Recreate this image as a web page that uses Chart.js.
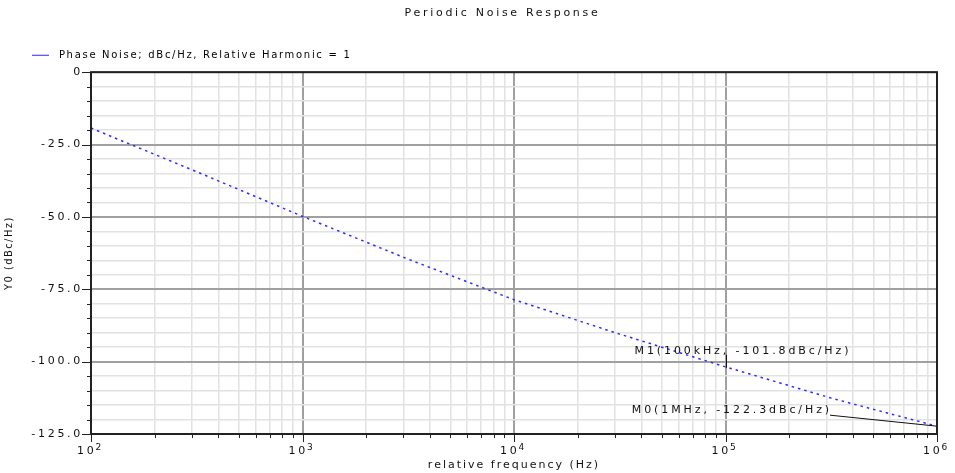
<!DOCTYPE html>
<html>
<head>
<meta charset="utf-8">
<title>Periodic Noise Response</title>
<script src="https://cdn.jsdelivr.net/npm/chart.js@4.4.1/dist/chart.umd.min.js"></script>
<style>
  html, body { margin: 0; padding: 0; background: #fff; }
  #wrap { width: 955px; height: 473px; }
</style>
</head>
<body>
<div id="wrap"><canvas id="pnoise" width="955" height="473"></canvas></div>
<script>
// Phase noise curve
const freqHz = [100, 316, 1000, 3162, 10000, 31623, 100000, 316228, 1000000];
const phaseNoise = [-19.3, -34.4, -49.8, -64.6, -78.6, -90.5, -101.8, -112.6, -122.3];

// axis ticks
const xMajorTicks = [1e2, 1e3, 1e4, 1e5, 1e6];
const xTickBase = '10';
const xTickExp = ['2', '3', '4', '5', '6'];
const yMajorTicks = [0, -25, -50, -75, -100, -125];
const yTickLabels = ['0', '-25.0', '-50.0', '-75.0', '-100.0', '-125.0'];

// markers
const markerNames = ['M1', 'M0'];
const markerFreq = [1e5, 1e6];
const markerValue = [-101.8, -122.3];
const markerText = ['M1(100kHz, -101.8dBc/Hz)', 'M0(1MHz, -122.3dBc/Hz)'];

const FONT = '"DejaVu Sans", Verdana, sans-serif';
const SPACING = '2.7px';

function isDecade(v) {
  return xMajorTicks.indexOf(v) !== -1;
}

// 1..9 per decade for the minor grid
const xAllTicks = [];
for (let d = 0; d < xMajorTicks.length - 1; d++) {
  for (let m = 1; m < 10; m++) xAllTicks.push(xMajorTicks[d] * m);
}
xAllTicks.push(xMajorTicks[xMajorTicks.length - 1]);

// run a draw method with its own letter spacing
function withSpacing(obj, method, spacing) {
  if (!obj || obj['_sp_' + method]) return;
  const orig = obj[method];
  obj[method] = function() {
    const ctx = this.ctx;
    const prev = ctx.letterSpacing;
    ctx.letterSpacing = spacing;
    const r = orig.apply(this, arguments);
    ctx.letterSpacing = prev;
    return r;
  };
  obj['_sp_' + method] = true;
}

const letterSpacingPlugin = {
  id: 'letterSpacing',
  beforeUpdate(chart) { chart.ctx.letterSpacing = SPACING; },
  beforeDraw(chart) { chart.ctx.letterSpacing = SPACING; },
  afterLayout(chart) {
    withSpacing(chart.legend, 'draw', '1.7px');
    withSpacing(chart.scales.x, 'drawTitle', '2px');
    withSpacing(chart.scales.y, 'drawTitle', '1.4px');
  }
};

const framePlugin = {
  id: 'frame',
  afterLayout(chart) {
    // nudge title and legend to where the original sits
    chart.titleBlock.left += 34;
    chart.titleBlock.right += 34;
    chart.legend.left += 20;
    chart.legend.right += 20;
    chart.legend.top -= 2;
  },
  afterDraw(chart) {
    const ctx = chart.ctx;
    const a = chart.chartArea;
    const xs = chart.scales.x;
    const ys = chart.scales.y;
    ctx.save();
    ctx.strokeStyle = '#222';
    ctx.lineWidth = 1;
    // tick marks
    ctx.beginPath();
    ys.ticks.forEach(t => {
      const y = Math.round(ys.getPixelForValue(t.value)) + 0.5;
      const len = yMajorTicks.indexOf(t.value) !== -1 ? 9 : 4;
      ctx.moveTo(a.left - len, y);
      ctx.lineTo(a.left, y);
    });
    xs.ticks.forEach(t => {
      const x = Math.round(xs.getPixelForValue(t.value)) + 0.5;
      const len = isDecade(t.value) ? 8 : 4;
      ctx.moveTo(x, a.bottom);
      ctx.lineTo(x, a.bottom + len);
    });
    ctx.stroke();
    // frame
    ctx.lineWidth = 2;
    ctx.strokeRect(a.left, a.top, a.right - a.left, a.bottom - a.top);

    // decade labels with raised exponent
    ctx.fillStyle = '#111';
    ctx.textAlign = 'left';
    ctx.textBaseline = 'alphabetic';
    xMajorTicks.forEach((v, i) => {
      const x = xs.getPixelForValue(v);
      ctx.letterSpacing = SPACING;
      ctx.font = '11px ' + FONT;
      const wBase = ctx.measureText(xTickBase).width;
      ctx.font = '9px ' + FONT;
      const wExp = ctx.measureText(xTickExp[i]).width;
      const x0 = x - (wBase + wExp) / 2;
      ctx.font = '11px ' + FONT;
      ctx.fillText(xTickBase, x0, a.bottom + 20);
      ctx.font = '9px ' + FONT;
      ctx.fillText(xTickExp[i], x0 + wBase - 1, a.bottom + 16);
    });
    ctx.restore();
  }
};

const markerPlugin = {
  id: 'markers',
  afterDatasetsDraw(chart) {
    const ctx = chart.ctx;
    const xs = chart.scales.x;
    const ys = chart.scales.y;
    ctx.save();
    ctx.letterSpacing = '2.9px';
    ctx.font = '11px ' + FONT;
    ctx.fillStyle = '#111';
    ctx.strokeStyle = '#111';
    ctx.lineWidth = 1;
    ctx.textBaseline = 'middle';
    markerNames.forEach((name, i) => {
      const px = xs.getPixelForValue(markerFreq[i]);
      const py = ys.getPixelForValue(markerValue[i]);
      ctx.beginPath();
      if (name === 'M1') {
        ctx.moveTo(Math.round(px) + 0.5, py - 12);
        ctx.lineTo(Math.round(px) + 0.5, py + 1);
        ctx.stroke();
        ctx.textAlign = 'left';
        ctx.fillText(markerText[i], px - 91, py - 16);
      } else {
        ctx.moveTo(px - 107, py - 11);
        ctx.lineTo(px, py);
        ctx.stroke();
        ctx.textAlign = 'right';
        ctx.fillText(markerText[i], px - 105, py - 16);
      }
    });
    ctx.restore();
  }
};

new Chart(document.getElementById('pnoise'), {
  type: 'line',
  data: {
    datasets: [{
      label: 'Phase Noise; dBc/Hz, Relative Harmonic = 1',
      data: freqHz.map((f, i) => ({ x: f, y: phaseNoise[i] })),
      borderColor: '#2a2aff',
      backgroundColor: '#2a2aff',
      borderWidth: 1.5,
      borderDash: [2.5, 4],
      pointRadius: 0,
      fill: false,
      tension: 0
    }]
  },
  options: {
    responsive: false,
    animation: false,
    layout: { padding: { left: 0, right: 18, top: 0, bottom: 0 } },
    plugins: {
      title: {
        display: true,
        text: 'Periodic Noise Response',
        color: '#111',
        font: { family: FONT, size: 11, weight: 'normal' },
        padding: { top: 7, bottom: 20 }
      },
      legend: {
        display: true,
        position: 'top',
        align: 'start',
        labels: {
          color: '#111',
          font: { family: FONT, size: 10 },
          boxWidth: 17,
          boxHeight: 1,
          padding: 12,
          generateLabels(chart) {
            return chart.data.datasets.map((ds, i) => ({
              text: ' ' + ds.label,
              fillStyle: '#2a2aff',
              strokeStyle: '#2a2aff',
              lineWidth: 0,
              lineDash: [],
              hidden: false,
              datasetIndex: i
            }));
          }
        }
      },
      tooltip: { enabled: false }
    },
    scales: {
      x: {
        type: 'logarithmic',
        min: xMajorTicks[0],
        max: xMajorTicks[xMajorTicks.length - 1],
        afterBuildTicks(scale) {
          scale.ticks = xAllTicks.map(v => ({ value: v, major: isDecade(v) }));
        },
        afterFit(scale) { scale.height = 39; },
        border: { display: false },
        grid: {
          drawTicks: false,
          color: c => (c.tick && isDecade(c.tick.value)) ? '#a0a0a0' : '#e2e2e2',
          lineWidth: c => (c.tick && isDecade(c.tick.value)) ? 2 : 1.5
        },
        ticks: {
          autoSkip: false,
          maxRotation: 0,
          callback() { return ''; }
        },
        title: {
          display: true,
          text: 'relative frequency (Hz)',
          color: '#111',
          font: { family: FONT, size: 11 },
          padding: { top: 0, bottom: 1 }
        }
      },
      y: {
        type: 'linear',
        min: -125,
        max: 0,
        afterFit(scale) { scale.width = 91; },
        border: { display: false },
        grid: {
          drawTicks: false,
          color: c => (c.tick && yMajorTicks.indexOf(c.tick.value) !== -1) ? '#a0a0a0' : '#e2e2e2',
          lineWidth: c => (c.tick && yMajorTicks.indexOf(c.tick.value) !== -1) ? 2 : 1.5
        },
        ticks: {
          stepSize: 5,
          autoSkip: false,
          padding: 8,
          color: '#111',
          font: { family: FONT, size: 11 },
          callback(value) {
            const i = yMajorTicks.indexOf(value);
            return i === -1 ? '' : yTickLabels[i];
          }
        },
        title: {
          display: true,
          text: 'Y0 (dBc/Hz)',
          color: '#111',
          font: { family: FONT, size: 10 },
          padding: { top: 3, bottom: 0 }
        }
      }
    }
  },
  plugins: [letterSpacingPlugin, framePlugin, markerPlugin]
});
</script>
</body>
</html>
